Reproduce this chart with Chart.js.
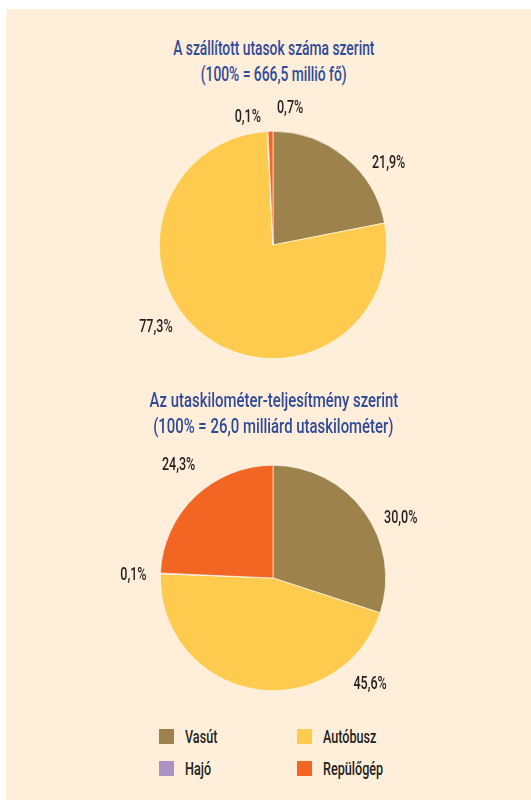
<!DOCTYPE html>
<html>
<head>
<meta charset="utf-8">
<script src="https://cdn.jsdelivr.net/npm/chart.js@4"></script>
<style>
  html,body{margin:0;padding:0;background:#fff;}
  #page{position:absolute;left:6px;top:9px;width:525px;height:791px;background:#FFEED9;}
  .title{position:absolute;left:8px;width:531px;text-align:center;color:#2F4A99;
    font-family:Roboto,sans-serif;font-weight:500;font-size:20px;line-height:26px;}
  .title span{display:inline-block;transform:scaleX(0.69);transform-origin:center;white-space:nowrap;}
  .title.t2 span{transform:scaleX(0.745);}
  .wrap{position:absolute;left:0;width:531px;height:290px;}
  #legend{position:absolute;left:159px;top:729px;width:300px;
    font-family:Roboto,sans-serif;font-weight:500;font-size:18px;color:#231F20;}
  .li{position:absolute;height:16px;line-height:16px;}
  .sw{position:absolute;left:0;top:0;width:15px;height:15px;}
  .lt{position:absolute;left:26px;top:0;white-space:nowrap;transform:scaleX(0.7);transform-origin:left center;}
</style>
</head>
<body>
<div id="page"></div>
<div class="title" style="top:35px;"><span>A szállított utasok száma szerint</span><br><span>(100% = 666,5 millió fő)</span></div>
<div class="wrap" style="top:100px;"><canvas id="c1"></canvas></div>
<div class="title t2" style="top:387px;"><span>Az utaskilométer-teljesítmény szerint</span><br><span>(100% = 26,0 milliárd utaskilométer)</span></div>
<div class="wrap" style="top:433px;"><canvas id="c2"></canvas></div>
<div id="legend"></div>
<script>
const categories = ["Vasút", "Autóbusz", "Hajó", "Repülőgép"];
const passengers = [21.9, 77.3, 0.1, 0.7];
const passengerKm = [30.0, 45.6, 0.1, 24.3];
const colors = ["#9E824C", "#FFCB4E", "#AD92C6", "#F26522"];
const nudge1 = [[32,20],[-36,-22],[-19,4],[20,-5]];
const nudge2 = [[22,17],[120,-22],[-9,3],[-4,-18]];

function fmt(v){ return v.toFixed(1).replace('.', ',') + '%'; }

const labelPlugin = {
  id: 'sliceLabels',
  afterDatasetsDraw(chart, args, opts) {
    const ctx = chart.ctx;
    const meta = chart.getDatasetMeta(0);
    const data = chart.data.datasets[0].data;
    meta.data.forEach((arc, i) => {
      const p = arc.getProps(['x','y','startAngle','endAngle','outerRadius'], true);
      const mid = (p.startAngle + p.endAngle) / 2;
      const d = p.outerRadius + 18;
      const x = p.x + Math.cos(mid) * d + opts.nudge[i][0];
      const y = p.y + Math.sin(mid) * d + opts.nudge[i][1];
      ctx.save();
      ctx.font = '500 19px Roboto,sans-serif';
      ctx.fillStyle = '#231F20';
      ctx.textAlign = 'center';
      ctx.textBaseline = 'middle';
      ctx.translate(x, y);
      ctx.scale(0.66, 1);
      ctx.fillText(fmt(data[i]), 0, 0);
      ctx.restore();
    });
  }
};

function makePie(id, values, nudge, padV) {
  return new Chart(document.getElementById(id), {
    type: 'pie',
    data: { labels: categories, datasets: [{ data: values, backgroundColor: colors, borderColor: '#FFFFFF', borderWidth: 0.6 }] },
    options: {
      responsive: true, maintainAspectRatio: false, animation: false,
      layout: { padding: { left: 15, right: 0, top: padV, bottom: padV } },
      plugins: { legend: { display: false }, tooltip: { enabled: false }, sliceLabels: { nudge: nudge } }
    },
    plugins: [labelPlugin]
  });
}
makePie('c1', passengers, nudge1, 31);
makePie('c2', passengerKm, nudge2, 32);

const legend = document.getElementById('legend');
categories.forEach((c, i) => {
  const d = document.createElement('div');
  d.className = 'li';
  d.style.left = (i % 2 === 0 ? 0 : 138) + 'px';
  d.style.top = (Math.floor(i / 2) * 32) + 'px';
  d.innerHTML = '<span class="sw" style="background:' + colors[i] + '"></span><span class="lt">' + c + '</span>';
  legend.appendChild(d);
});
</script>
</body>
</html>
